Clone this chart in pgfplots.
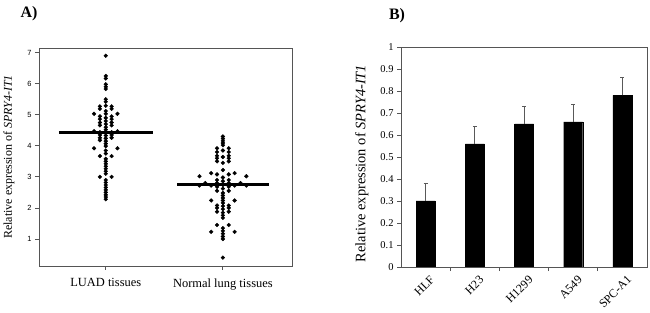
\documentclass[border=0pt]{standalone}
\usepackage{fontspec}
\setmainfont{Liberation Serif}
\setsansfont{Liberation Sans}
\usepackage{pgfplots}
\usepackage{pgfplotstable}
\pgfplotsset{compat=1.18}
\definecolor{axgray}{RGB}{85,85,85}

\pgfplotstableread{
x y
1 6.90
1 6.25
1 6.17
1 5.98
1 5.90
1 5.83
1 5.50
1 5.42
1 5.29
0.95 5.27
1.05 5.27
0.95 5.19
1.05 5.19
1 5.12
0.9 5.03
1.1 5.03
1 5.03
0.95 4.95
1.05 4.95
1 4.90
0.95 4.86
1.05 4.86
1 4.80
0.95 4.75
1.05 4.75
1 4.70
0.95 4.66
1.05 4.66
1 4.60
1 4.52
0.9 4.47
1.1 4.47
0.95 4.44
1.05 4.44
1 4.42
0.95 4.35
1.05 4.35
1 4.33
0.95 4.26
1.05 4.26
1 4.24
0.95 4.18
1 4.15
1 4.07
1 3.99
0.9 3.92
1.1 3.92
1 3.85
1 3.75
0.95 3.67
1.05 3.67
1 3.58
1 3.50
1 3.42
1 3.34
1 3.26
1 3.18
1 3.10
0.95 3.00
1.05 3.00
1 2.90
1 2.82
1 2.74
1 2.66
1 2.58
1 2.50
1 2.42
1 2.35
1 2.28
}\luad

\pgfplotstableread{
x y
2 4.30
2 4.23
2 4.16
2 4.09
2 4.02
1.95 3.92
2.05 3.92
2 3.85
1.95 3.80
2.05 3.80
1.95 3.68
2.05 3.68
2 3.64
1.95 3.60
2.05 3.60
1.95 3.50
2.05 3.50
2 3.45
2 3.22
1.9 3.12
2.1 3.12
1.95 3.08
2.05 3.08
1.8 3.02
2.2 3.02
2 2.98
1.95 2.90
2.05 2.90
2 2.86
1.85 2.80
2.15 2.80
1.95 2.80
2.05 2.80
1.8 2.72
2.2 2.72
1.9 2.72
2.1 2.72
2 2.74
1.95 2.68
2.05 2.68
2 2.62
1.95 2.55
2.05 2.55
2 2.48
2 2.40
2 2.32
1.9 2.24
2.1 2.24
2 2.24
2 2.16
1.95 2.08
2.05 2.08
2 2.06
1.95 2.00
2.05 2.00
2 1.96
1.95 1.88
2.05 1.88
2 1.85
2 1.76
2 1.68
1.95 1.45
2.05 1.45
2 1.35
1.9 1.23
2.1 1.23
2 1.26
2 1.17
2 1.08
2 1.00
2 0.40
}\normal

\begin{document}
\begin{tikzpicture}
\useasboundingbox (0,0) rectangle (650bp,313bp);
\node[font=\bfseries\fontsize{16}{18}\selectfont] at (29bp,299bp) {A)};
\node[font=\bfseries\fontsize{16}{18}\selectfont] at (397bp,297bp) {B)};
\begin{axis}[
  at={(39bp,47bp)}, anchor=south west,
  scale only axis, width=253bp, height=218bp,
  xmin=0.43, xmax=2.59, ymin=0.13, ymax=7.15,
  xtick={1,2}, xticklabels={LUAD tissues, Normal lung tissues},
  ytick={1,2,3,4,5,6,7},
  tick align=outside, xtick pos=bottom, ytick pos=left,
  major tick length=4bp,
  axis line style={axgray, line width=0.8bp},
  tick style={axgray, line width=0.8bp},
  /pgf/number format/assume math mode=true,
  yticklabel style={font=\sffamily\fontsize{7.5}{8}\selectfont},
  xticklabel style={font=\fontsize{12.5}{14}\selectfont, yshift=-5bp},
  ylabel={Relative expression of \textit{SPRY4-IT1}},
  ylabel style={font=\fontsize{12}{14}\selectfont, at={(axis description cs:-0.119,0.5)}, anchor=center},
]
\addplot[only marks, mark=*, mark size=1.9bp, black] table[x=x,y=y] {\luad};
\addplot[only marks, mark=*, mark size=1.9bp, black] table[x=x,y=y] {\normal};
\addplot[black, line width=3bp] coordinates {(0.6,4.42) (1.4,4.42)};
\addplot[black, line width=3bp] coordinates {(1.61,2.76) (2.39,2.76)};
\end{axis}

\begin{axis}[
  at={(401bp,46bp)}, anchor=south west,
  scale only axis, width=246bp, height=220bp,
  xmin=-0.5, xmax=4.5, ymin=0, ymax=1,
  xtick={0,1,2,3,4}, xticklabels={HLF,H23,H1299,A549,SPC-A1},
  minor xtick={0.5,1.5,2.5,3.5},
  major x tick style={draw=none},
  minor tick length=4bp,
  ytick={0,0.1,0.2,0.3,0.4,0.5,0.6,0.7,0.8,0.9,1},
  yticklabels={0,0.1,0.2,0.3,0.4,0.5,0.6,0.7,0.8,0.9,1},
  tick align=outside, xtick pos=bottom, ytick pos=left,
  major tick length=4bp,
  axis line style={axgray, line width=0.8bp},
  tick style={axgray, line width=0.8bp},
  /pgf/number format/assume math mode=true,
  yticklabel style={font=\fontsize{10.5}{12}\selectfont},
  xticklabel style={font=\fontsize{12}{14}\selectfont, xshift=4bp, yshift=1bp, rotate=45, anchor=north east},
  ylabel={Relative expression of \textit{SPRY4-IT1}},
  ylabel style={font=\fontsize{14.5}{16}\selectfont, at={(axis description cs:-0.159,0.47)}, anchor=center},
]
\addplot[ybar, bar width=19bp, fill=black, draw=black,
  error bars/.cd, y dir=plus, y explicit,
  error bar style={color=gray!70!black, line width=1bp},
  error mark options={rotate=90, mark size=2bp, line width=1bp, color=gray!70!black}]
  coordinates {(0,0.30) +- (0,0.08) (1,0.56) +- (0,0.08) (2,0.65) +- (0,0.08) (3,0.66) +- (0,0.08) (4,0.78) +- (0,0.08)};
\end{axis}
\end{tikzpicture}
\end{document}
